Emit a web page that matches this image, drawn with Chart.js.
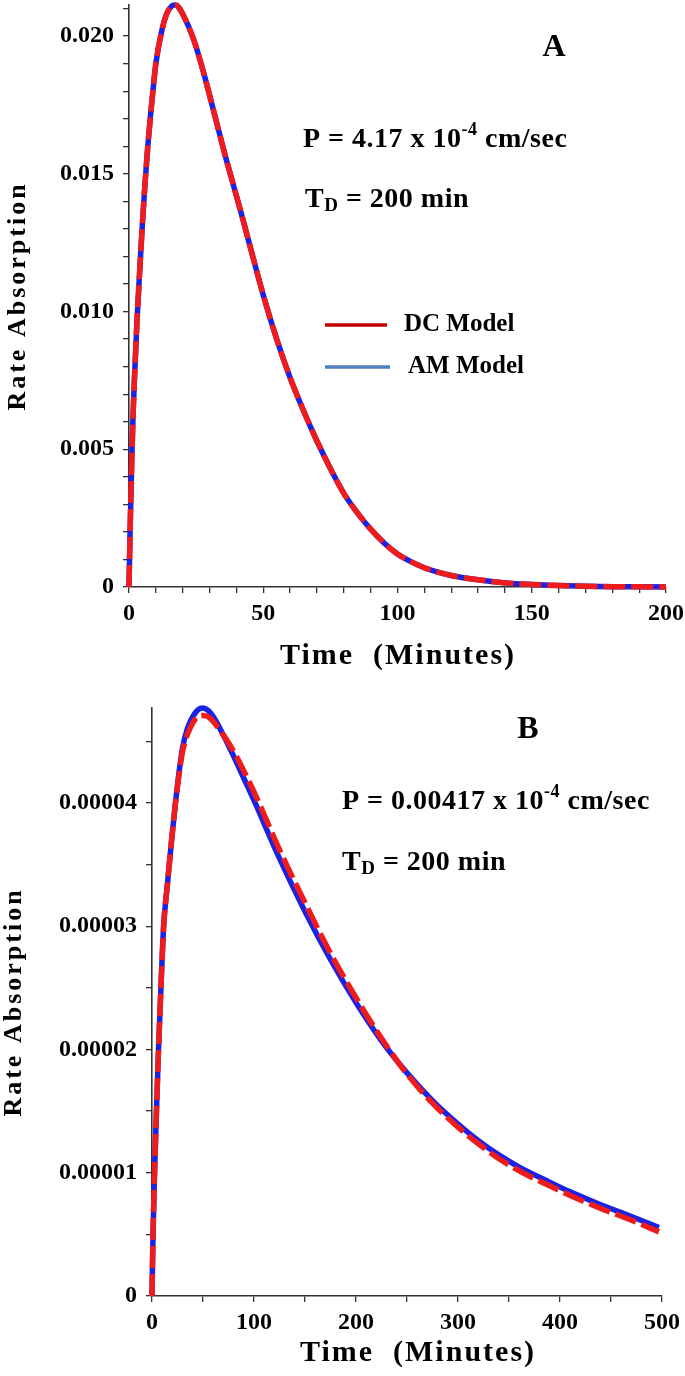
<!DOCTYPE html>
<html>
<head>
<meta charset="utf-8">
<script src="https://cdn.jsdelivr.net/npm/chart.js@4.4.1/dist/chart.umd.min.js"></script>
<style>
  body { margin: 0; background: #fff; }
  #wrap { position: relative; width: 685px; height: 1376px; }
  canvas { position: absolute; left: 0; }
  #chartA { top: 0; }
  #chartB { top: 685px; }
</style>
</head>
<body>
<div id="wrap">
  <canvas id="chartA" width="685" height="685"></canvas>
  <canvas id="chartB" width="685" height="691"></canvas>
</div>
<script>
// Panel A: time (min) and rate absorption
const topTime = [0, 0.4, 1, 1.5, 2, 3, 4, 5, 6, 7, 8, 9, 10, 12, 14, 16, 17, 18, 20, 24, 28, 32, 36, 38, 42, 45, 50, 55, 60, 65, 70, 75, 80, 85, 90, 95, 100, 105, 110, 115, 120, 130, 140, 150, 160, 170, 180, 190, 200];
const topDC = [0, 0.0020, 0.0045, 0.0062, 0.0075, 0.0097, 0.0115, 0.0132, 0.0147, 0.0160, 0.0171, 0.0181, 0.0190, 0.0201, 0.0208, 0.0211, 0.02113, 0.0211, 0.0208, 0.0199, 0.0186, 0.0171, 0.0156, 0.0149, 0.0135, 0.0124, 0.0106, 0.0090, 0.0076, 0.0064, 0.0053, 0.0043, 0.0034, 0.0027, 0.0021, 0.0016, 0.0012, 0.00092, 0.0007, 0.00054, 0.00042, 0.00026, 0.00015, 0.00009, 0.00005, 0.000025, 0.000012, 0.000006, 0.000003];
const topAM = [0, 0.0020, 0.0045, 0.0062, 0.0075, 0.0097, 0.0115, 0.0132, 0.0147, 0.0160, 0.0171, 0.0181, 0.0190, 0.0201, 0.0208, 0.0211, 0.02113, 0.0211, 0.0208, 0.0199, 0.0186, 0.0171, 0.0156, 0.0149, 0.0135, 0.0124, 0.0106, 0.0090, 0.0076, 0.0064, 0.0053, 0.0043, 0.0034, 0.0027, 0.0021, 0.0016, 0.0012, 0.00092, 0.0007, 0.00054, 0.00042, 0.00026, 0.00015, 0.00009, 0.00005, 0.000025, 0.000012, 0.000006, 0.000003];

// Panel B
const botTime = [0, 1, 2.5, 4, 6.4, 9, 11.4, 15, 19, 23, 27, 30, 35, 40, 45, 50, 55, 60, 70, 80, 90, 100, 125, 150, 175, 200, 225, 250, 275, 300, 320, 338, 360, 387, 410, 440, 470, 497];
const botDC = [0, 0.5e-5, 1.0e-5, 1.4e-5, 2.0e-5, 2.55e-5, 3.0e-5, 3.33e-5, 3.68e-5, 4.0e-5, 4.26e-5, 4.42e-5, 4.56e-5, 4.65e-5, 4.70e-5, 4.71e-5, 4.70e-5, 4.66e-5, 4.55e-5, 4.42e-5, 4.26e-5, 4.09e-5, 3.62e-5, 3.19e-5, 2.78e-5, 2.42e-5, 2.09e-5, 1.80e-5, 1.565e-5, 1.37e-5, 1.235e-5, 1.125e-5, 1.015e-5, 0.905e-5, 0.815e-5, 0.71e-5, 0.615e-5, 0.52e-5];
const botAM = [0, 0.5e-5, 1.0e-5, 1.4e-5, 2.0e-5, 2.55e-5, 3.0e-5, 3.33e-5, 3.68e-5, 4.0e-5, 4.28e-5, 4.45e-5, 4.61e-5, 4.70e-5, 4.755e-5, 4.77e-5, 4.75e-5, 4.70e-5, 4.55e-5, 4.38e-5, 4.20e-5, 4.02e-5, 3.55e-5, 3.12e-5, 2.73e-5, 2.38e-5, 2.07e-5, 1.81e-5, 1.585e-5, 1.395e-5, 1.26e-5, 1.155e-5, 1.045e-5, 0.935e-5, 0.845e-5, 0.74e-5, 0.645e-5, 0.555e-5];

// tick labels (major ticks only, minor ticks are unlabeled)
const topXMajor = [0, 50, 100, 150, 200];
const topXLabels = ['0', '50', '100', '150', '200'];
const topYMajor = [0, 0.005, 0.010, 0.015, 0.020];
const topYLabels = ['0', '0.005', '0.010', '0.015', '0.020'];
const botXMajor = [0, 100, 200, 300, 400, 500];
const botXLabels = ['0', '100', '200', '300', '400', '500'];
const botYMajor = [0, 0.00001, 0.00002, 0.00003, 0.00004];
const botYLabels = ['0', '0.00001', '0.00002', '0.00003', '0.00004'];

const RED = '#f01c1c';
const BLUE = '#1a22e6';
const AXIS = '#333333';
const FONT = '"Liberation Serif", "Times New Roman", serif';

function points(xs, ys) {
    return xs.map((x, i) => ({ x: x, y: ys[i] }));
}

function stepTicks(max, step) {
    const out = [];
    for (let v = 0; v <= max + step * 1e-6; v += step) out.push({ value: +v.toPrecision(10) });
    return out;
}

function labelFor(majors, labels, value, tol) {
    const i = majors.findIndex(m => Math.abs(m - value) < tol);
    return i >= 0 ? labels[i] : '';
}

function drawRich(ctx, x, y, parts, spacing) {
    let cx = x;
    ctx.letterSpacing = (spacing || 0) + 'px';
    parts.forEach(p => {
        ctx.font = 'bold ' + p.size + 'px ' + FONT;
        ctx.fillText(p.text, cx, y + (p.dy || 0));
        cx += ctx.measureText(p.text).width;
    });
    ctx.letterSpacing = '0px';
}

function axisTitles(ctx, yTitle, xTitle) {
    ctx.save();
    ctx.fillStyle = '#000';
    ctx.textAlign = 'center';
    ctx.textBaseline = 'middle';
    ctx.font = 'bold 26px ' + FONT;
    ctx.letterSpacing = '3px';
    ctx.translate(yTitle.x, yTitle.y);
    ctx.rotate(-Math.PI / 2);
    ctx.fillText('Rate Absorption', 0, 0);
    ctx.restore();

    ctx.save();
    ctx.fillStyle = '#000';
    ctx.textAlign = 'center';
    ctx.textBaseline = 'middle';
    ctx.font = 'bold 30px ' + FONT;
    ctx.letterSpacing = '2px';
    ctx.fillText('Time  (Minutes)', xTitle.x, xTitle.y);
    ctx.restore();
}

function makeScales(xMax, xStep, xMajor, xLabels, yMax, yStep, yMajor, yLabels, yWidth, xHeight) {
    const common = {
        type: 'linear',
        min: 0,
        grid: { drawOnChartArea: false, drawTicks: true, tickLength: 6, color: AXIS, lineWidth: 1.3 },
        border: { color: AXIS, width: 1.6 }
    };
    return {
        x: Object.assign({}, common, {
            max: xMax,
            afterBuildTicks: s => { s.ticks = stepTicks(xMax, xStep); },
            afterFit: s => { s.height = xHeight; s.paddingLeft = 0; s.paddingRight = 0; },
            ticks: {
                autoSkip: false, maxRotation: 0, padding: 6, color: '#000',
                font: { family: FONT, size: 24, weight: 'bold' },
                callback: v => labelFor(xMajor, xLabels, v, xStep / 10)
            }
        }),
        y: Object.assign({}, common, {
            max: yMax,
            afterBuildTicks: s => { s.ticks = stepTicks(yMax, yStep); },
            afterFit: s => { s.width = yWidth; s.paddingTop = 0; s.paddingBottom = 0; },
            ticks: {
                autoSkip: false, padding: 9, color: '#000',
                font: { family: FONT, size: 24, weight: 'bold' },
                callback: v => labelFor(yMajor, yLabels, v, yStep / 10)
            }
        })
    };
}

function datasets(xs, dc, am) {
    return [
        {
            label: 'DC Model',
            data: points(xs, dc),
            borderColor: RED,
            borderWidth: 5.5,
            borderDash: [22, 6],
            pointRadius: 0,
            cubicInterpolationMode: 'monotone',
            clip: false
        },
        {
            label: 'AM Model',
            data: points(xs, am),
            borderColor: BLUE,
            borderWidth: 5.5,
            pointRadius: 0,
            cubicInterpolationMode: 'monotone',
            clip: false
        }
    ];
}

const annotA = {
    id: 'annotA',
    afterDraw(chart) {
        const ctx = chart.ctx;
        axisTitles(ctx, { x: 18, y: 296 }, { x: 398, y: 656 });
        ctx.save();
        ctx.fillStyle = '#000';
        ctx.textBaseline = 'middle';
        ctx.textAlign = 'center';
        ctx.font = 'bold 32px ' + FONT;
        ctx.fillText('A', 554, 48);
        ctx.textAlign = 'left';
        drawRich(ctx, 303, 140, [
            { text: 'P = 4.17 x 10', size: 28 },
            { text: '-4', size: 18, dy: -10 },
            { text: ' cm/sec', size: 28 }
        ], 0.5);
        drawRich(ctx, 305, 200, [
            { text: 'T', size: 28 },
            { text: 'D', size: 19, dy: 6 },
            { text: ' = 200 min', size: 28 }
        ], 0.5);
        // legend
        ctx.lineWidth = 3.5;
        ctx.strokeStyle = '#c00000';
        ctx.beginPath(); ctx.moveTo(325, 325); ctx.lineTo(387, 325); ctx.stroke();
        ctx.strokeStyle = '#4f81bd';
        ctx.beginPath(); ctx.moveTo(325, 367); ctx.lineTo(390, 367); ctx.stroke();
        drawRich(ctx, 404, 325, [{ text: 'DC Model', size: 25 }]);
        drawRich(ctx, 408, 367, [{ text: 'AM Model', size: 25 }]);
        ctx.restore();
    }
};

const annotB = {
    id: 'annotB',
    afterDraw(chart) {
        const ctx = chart.ctx;
        axisTitles(ctx, { x: 14, y: 317 }, { x: 418, y: 668 });
        ctx.save();
        ctx.fillStyle = '#000';
        ctx.textBaseline = 'middle';
        ctx.textAlign = 'center';
        ctx.font = 'bold 32px ' + FONT;
        ctx.fillText('B', 528, 45);
        ctx.textAlign = 'left';
        drawRich(ctx, 342, 117, [
            { text: 'P = 0.00417 x 10', size: 28 },
            { text: '-4', size: 18, dy: -10 },
            { text: ' cm/sec', size: 28 }
        ], 0.5);
        drawRich(ctx, 342, 178, [
            { text: 'T', size: 28 },
            { text: 'D', size: 19, dy: 6 },
            { text: ' = 200 min', size: 28 }
        ], 0.5);
        ctx.restore();
    }
};

const baseOptions = {
    responsive: false,
    animation: false,
    devicePixelRatio: 1,
    plugins: { legend: { display: false }, tooltip: { enabled: false } }
};

new Chart(document.getElementById('chartA'), {
    type: 'line',
    data: { datasets: datasets(topTime, topDC, topAM) },
    options: Object.assign({}, baseOptions, {
        layout: { padding: { top: 5, right: 19, left: 0, bottom: 0 } },
        scales: makeScales(200, 10, topXMajor, topXLabels, 0.02113, 0.001, topYMajor, topYLabels, 129, 98)
    }),
    plugins: [annotA]
});

new Chart(document.getElementById('chartB'), {
    type: 'line',
    data: { datasets: datasets(botTime, botDC, botAM) },
    options: Object.assign({}, baseOptions, {
        layout: { padding: { top: 23, right: 23, left: 0, bottom: 0 } },
        scales: makeScales(500, 50, botXMajor, botXLabels, 0.0000477, 0.000005, botYMajor, botYLabels, 152, 80)
    }),
    plugins: [annotB]
});
</script>
</body>
</html>
